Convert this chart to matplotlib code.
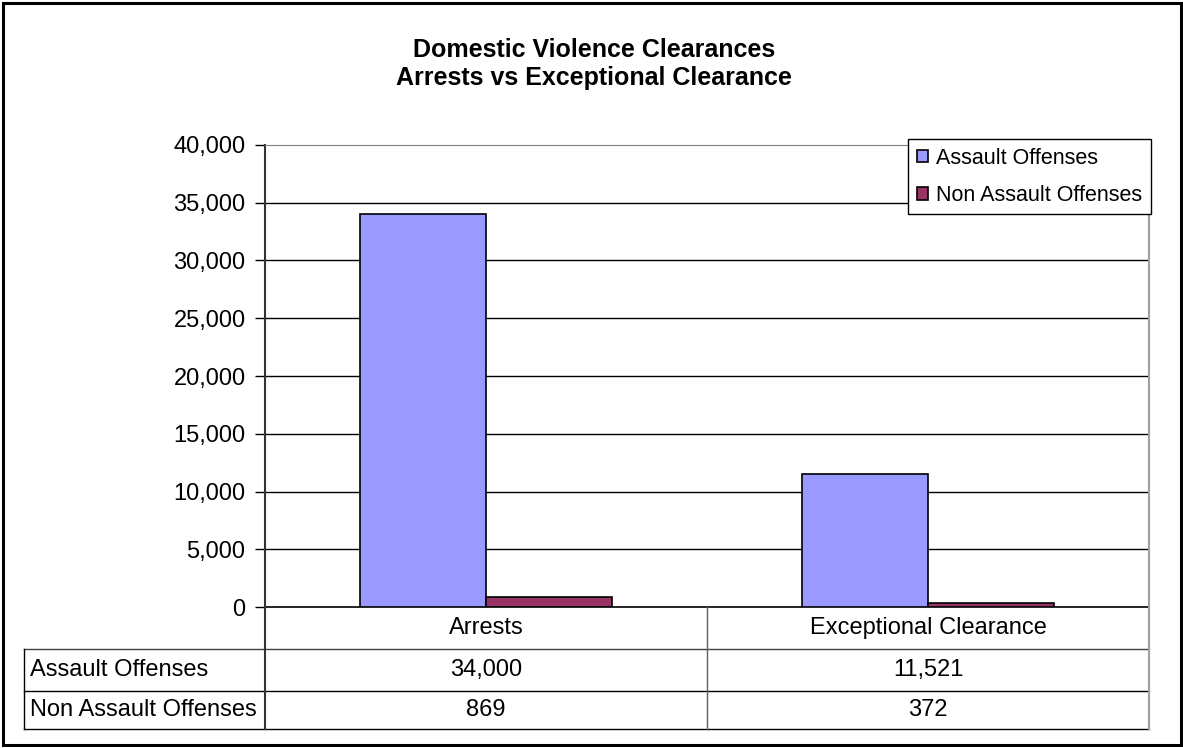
import matplotlib
matplotlib.use("Agg")
import matplotlib.pyplot as plt
from matplotlib.patches import Patch, Rectangle
from matplotlib.lines import Line2D

# chart data
categories = ["Arrests", "Exceptional Clearance"]
series_names = ["Assault Offenses", "Non Assault Offenses"]
assault = [34000, 11521]
non_assault = [869, 372]
colors = ["#9999FF", "#993366"]
y_ticks = list(range(0, 40001, 5000))

W, H = 1183, 748
plt.rcParams['font.family'] = ['Liberation Sans', 'DejaVu Sans']

fig = plt.figure(figsize=(W / 100, H / 100), dpi=100)


def fx(x):
    return x / W


def fy(y):
    return 1 - y / H


# outer border
fig.add_artist(Rectangle((fx(3), fy(745)), fx(1181) - fx(3), fy(3) - fy(745),
                         transform=fig.transFigure, fill=False, edgecolor="black", linewidth=2.2))

# plot area
x_left, x_right, y_top, y_zero = 265, 1149, 145, 607
ax = fig.add_axes([fx(x_left), fy(y_zero), fx(x_right) - fx(x_left), fy(y_top) - fy(y_zero)])

# Excel layout: gap width 150% -> bar width = category / 3.5
bar_w = 1 / 3.5
xs = list(range(len(categories)))
ax.bar([x - bar_w / 2 for x in xs], assault, width=bar_w, color=colors[0],
       edgecolor="black", linewidth=1.2, zorder=3)
ax.bar([x + bar_w / 2 for x in xs], non_assault, width=bar_w, color=colors[1],
       edgecolor="black", linewidth=1.2, zorder=3)

ax.set_xlim(-0.5, len(categories) - 0.5)
ax.set_ylim(0, 40000)
ax.set_yticks(y_ticks)
ax.set_yticklabels([f"{v:,}" for v in y_ticks], fontsize=17)
ax.tick_params(axis="y", direction="out", length=7, width=1, pad=7, colors="black")
ax.set_xticks([])
for v in y_ticks[1:-1]:
    ax.axhline(v, color="black", linewidth=1, zorder=1)

ax.spines["left"].set_color("#333333")
ax.spines["left"].set_linewidth(1.5)
ax.spines["bottom"].set_color("black")
ax.spines["bottom"].set_linewidth(1.2)
ax.spines["top"].set_color("#808080")
ax.spines["right"].set_color("#a0a0a0")
ax.spines["right"].set_linewidth(1.5)

# title
fig.text(fx(594), fy(50), "Domestic Violence Clearances", ha="center", va="center",
         fontsize=18, fontweight="bold")
fig.text(fx(594), fy(78), "Arrests vs Exceptional Clearance", ha="center", va="center",
         fontsize=18, fontweight="bold")

# legend
handles = [Patch(facecolor=c, edgecolor="black", linewidth=1.2) for c in colors]
leg = fig.legend(handles, series_names, loc="upper left",
                 bbox_to_anchor=(fx(908), fy(139)), borderaxespad=0, fontsize=15.5,
                 frameon=True, fancybox=False, edgecolor="black", framealpha=1,
                 handlelength=0.55, handleheight=0.55, handletextpad=0.35,
                 labelspacing=0.75, borderpad=0.4)
leg.get_frame().set_linewidth(1)

# data table below the plot
row_y = [607, 649, 691, 729]
col_x = [24, 265, 707, 1149]


def hline(y, x0, x1, color="black", lw=1):
    fig.add_artist(Line2D([fx(x0), fx(x1)], [fy(y), fy(y)], transform=fig.transFigure,
                          color=color, linewidth=lw))


def vline(x, y0, y1, color="black", lw=1):
    fig.add_artist(Line2D([fx(x), fx(x)], [fy(y0), fy(y1)], transform=fig.transFigure,
                          color=color, linewidth=lw))


hline(row_y[1], col_x[0], col_x[3], color="#404040")
hline(row_y[2], col_x[0], col_x[3])
hline(row_y[3], col_x[0], col_x[3])
vline(col_x[0], row_y[1], row_y[3])
vline(col_x[1], row_y[0], row_y[3], color="#333333", lw=1.5)
vline(col_x[2], row_y[0], row_y[3], color="#606060")
vline(col_x[3], row_y[0], row_y[3], color="#a0a0a0", lw=1.5)

for i, cat in enumerate(categories):
    cx = (col_x[i + 1] + col_x[i + 2]) / 2
    fig.text(fx(cx), fy((row_y[0] + row_y[1]) / 2), cat, ha="center", va="center", fontsize=17)

rows = [assault, non_assault]
for r, (name, vals) in enumerate(zip(series_names, rows)):
    yc = (row_y[r + 1] + row_y[r + 2]) / 2
    fig.text(fx(col_x[0] + 6), fy(yc), name, ha="left", va="center", fontsize=17)
    for i, v in enumerate(vals):
        cx = (col_x[i + 1] + col_x[i + 2]) / 2
        fig.text(fx(cx), fy(yc), f"{v:,}", ha="center", va="center", fontsize=17)

fig.savefig("out.png", dpi=100)
